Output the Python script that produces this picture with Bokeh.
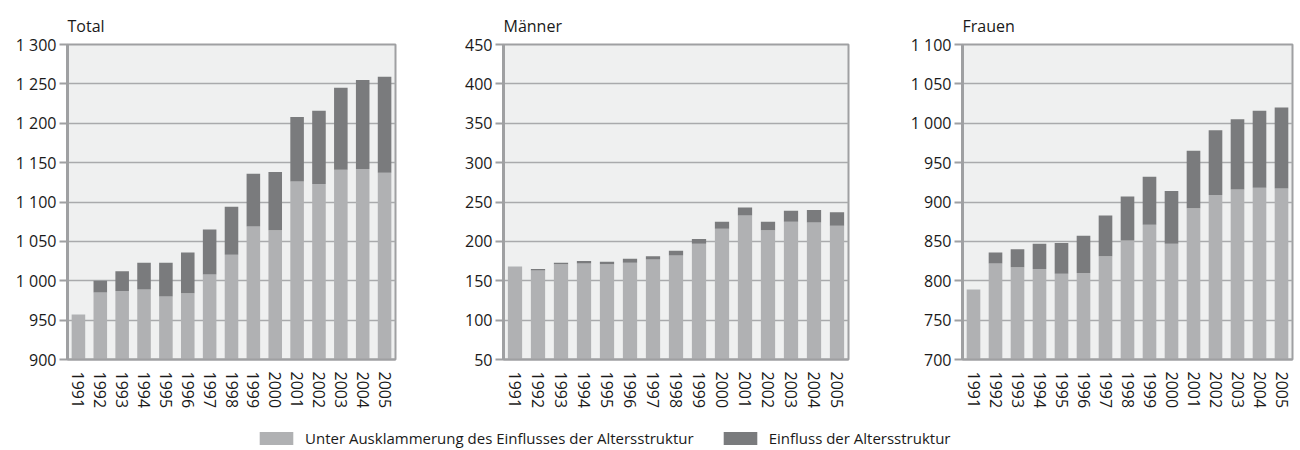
from bokeh.plotting import figure
from bokeh.layouts import column, row
from bokeh.models import Range1d, FactorRange, FixedTicker, Legend, LegendItem, ColumnDataSource
from bokeh.embed import file_html
from bokeh.resources import INLINE

years = [str(y) for y in range(1991, 2006)]

# Total
total_base = [957, 985, 987, 989, 980, 984, 1008, 1033, 1069, 1064, 1126, 1123, 1141, 1142, 1137]
total_all = [957, 1000, 1012, 1023, 1023, 1036, 1065, 1094, 1136, 1138, 1208, 1216, 1245, 1255, 1259]
# Männer
men_base = [168, 163, 171, 172, 171, 173, 177, 182, 197, 216, 233, 214, 225, 224, 220]
men_all = [168, 165, 173, 175, 174, 178, 181, 188, 203, 225, 243, 225, 239, 240, 237]
# Frauen
women_base = [789, 822, 817, 815, 809, 810, 831, 851, 871, 847, 892, 909, 916, 918, 917]
women_all = [789, 836, 840, 847, 848, 857, 883, 907, 932, 914, 965, 991, 1005, 1016, 1020]

total_ticks = [900, 950, 1000, 1050, 1100, 1150, 1200, 1250, 1300]
total_labels = ["900", "950", "1 000", "1 050", "1 100", "1 150", "1 200", "1 250", "1 300"]
men_ticks = [50, 100, 150, 200, 250, 300, 350, 400, 450]
men_labels = ["50", "100", "150", "200", "250", "300", "350", "400", "450"]
women_ticks = [700, 750, 800, 850, 900, 950, 1000, 1050, 1100]
women_labels = ["700", "750", "800", "850", "900", "950", "1 000", "1 050", "1 100"]

titles = ["Total", "Männer", "Frauen"]
legend_labels = ["Unter Ausklammerung des Einflusses der Altersstruktur", "Einfluss der Altersstruktur"]

LIGHT = "#b0b1b3"
DARK = "#7a7b7d"
BG = "#eff0f0"
GRID = "#a9aaac"
AXIS = "#9fa0a2"
TXT = "#1a1a1a"
FONT = "Open Sans"


def panel(title, base, tot, ticks, labels, width, left, right):
    p = figure(width=width, height=419, x_range=FactorRange(*years, range_padding=0),
               y_range=Range1d(ticks[0], ticks[-1]), output_backend="svg",
               toolbar_location=None, min_border_left=left, min_border_right=right,
               min_border_top=44, min_border_bottom=60)
    p.title.text = title
    p.title.text_font = FONT
    p.title.text_font_size = "16px"
    p.title.text_font_style = "normal"
    p.title.text_color = TXT
    p.title.align = "left"
    p.title.offset = 0
    p.title.standoff = 16
    src = ColumnDataSource(dict(x=years, base=base, tot=tot, floor=[ticks[0]] * len(years)))
    p.vbar(x="x", bottom="floor", top="base", width=0.62, source=src,
           fill_color=LIGHT, line_color=None)
    p.vbar(x="x", bottom="base", top="tot", width=0.62, source=src,
           fill_color=DARK, line_color=None)
    p.background_fill_color = BG
    p.border_fill_color = "white"
    p.outline_line_color = AXIS
    p.outline_line_width = 2
    p.xgrid.grid_line_color = None
    p.ygrid.grid_line_color = GRID
    p.ygrid.grid_line_width = 1.5
    p.yaxis.ticker = FixedTicker(ticks=ticks)
    p.yaxis.major_label_overrides = {t: l for t, l in zip(ticks, labels)}
    p.yaxis.minor_tick_line_color = None
    p.yaxis.major_tick_in = 0
    p.yaxis.major_tick_out = 8
    p.yaxis.major_tick_line_color = AXIS
    p.yaxis.major_tick_line_width = 2
    p.yaxis.axis_line_color = AXIS
    p.yaxis.axis_line_width = 3
    p.yaxis.major_label_standoff = 3
    p.xaxis.major_tick_line_color = None
    p.xaxis.minor_tick_line_color = None
    p.xaxis.major_tick_out = 0
    p.xaxis.major_tick_in = 0
    p.xaxis.axis_line_color = AXIS
    p.xaxis.axis_line_width = 2
    p.xaxis.major_label_orientation = "vertical"
    p.xaxis.major_label_standoff = 12
    for ax in (p.xaxis, p.yaxis):
        ax.major_label_text_font = FONT
        ax.major_label_text_font_size = "16px"
        ax.major_label_text_color = TXT
    return p


p1 = panel(titles[0], total_base, total_all, total_ticks, total_labels, 440, 67, 45)
p2 = panel(titles[1], men_base, men_all, men_ticks, men_labels, 440, 63, 32)
p3 = panel(titles[2], women_base, women_all, women_ticks, women_labels, 420, 82, 8)

lf = figure(width=1300, height=30, min_border=0, toolbar_location=None, output_backend="svg",
            x_range=Range1d(0, 1), y_range=Range1d(0, 1), x_axis_type=None, y_axis_type=None)
lf.outline_line_color = None
lf.xgrid.grid_line_color = None
lf.ygrid.grid_line_color = None
# off-range dummy points so only the legend swatches are drawn
r1 = lf.vbar(x=[5], top=[5], width=0.5, fill_color=LIGHT, line_color=None)
r2 = lf.vbar(x=[5], top=[5], width=0.5, fill_color=DARK, line_color=None)
leg = Legend(items=[LegendItem(label=legend_labels[0], renderers=[r1]),
                    LegendItem(label=legend_labels[1], renderers=[r2])],
             location=(255, 1), orientation="horizontal", glyph_width=42, glyph_height=16,
             label_text_font=FONT, label_text_font_size="15px", label_text_color=TXT,
             label_standoff=8, spacing=25, padding=0, margin=0,
             border_line_alpha=0, background_fill_alpha=0)
lf.add_layout(leg)

layout = column(row(p1, p2, p3), lf)
open("out.html", "w").write(file_html(layout, INLINE))
